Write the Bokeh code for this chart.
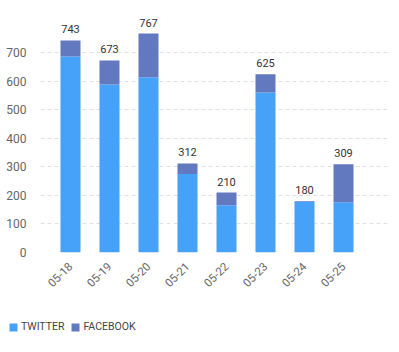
from bokeh.plotting import figure
from bokeh.models import ColumnDataSource, FixedTicker, Legend, LegendItem
from bokeh.layouts import column
from bokeh.core.properties import value
from bokeh.embed import file_html
from bokeh.resources import INLINE
import math

dates = ["05-18", "05-19", "05-20", "05-21", "05-22", "05-23", "05-24", "05-25"]
twitter = [687, 589, 614, 275, 166, 561, 177, 176]
facebook = [56, 84, 153, 37, 44, 64, 3, 133]
y_ticks = [0, 100, 200, 300, 400, 500, 600, 700]
series_names = ["TWITTER", "FACEBOOK"]

FONT = "Roboto"
TW_COLOR = "#46a1f8"
FB_COLOR = "#6379bf"

idx = list(range(len(dates)))
totals = [t + f for t, f in zip(twitter, facebook)]
src = ColumnDataSource(dict(x=idx, twitter=twitter, facebook=facebook,
                            total=totals, label=[str(v) for v in totals]))

p = figure(width=399, height=300, output_backend="svg", toolbar_location=None,
           x_range=(-0.769, 8.128), y_range=(0, 848),
           min_border_left=40, min_border_right=12, min_border_top=10,
           min_border_bottom=48)
p.outline_line_color = None
p.frame_align = False

r = p.vbar_stack(["twitter", "facebook"], x="x", width=0.513, source=src,
                 color=[TW_COLOR, FB_COLOR], line_color=None)

p.text(x="x", y="total", text="label", source=src, text_align="center",
       text_baseline="bottom", y_offset=-7, text_font=value(FONT),
       text_font_size="11px", text_color="#333333")

p.xaxis.ticker = FixedTicker(ticks=idx)
p.xaxis.major_label_overrides = {i: d for i, d in enumerate(dates)}
p.xaxis.major_label_orientation = math.pi / 4
p.xaxis.axis_line_color = None
p.xaxis.major_tick_line_color = None
p.xaxis.minor_tick_line_color = None
p.xaxis.major_label_text_font = FONT
p.xaxis.major_label_text_font_size = "11.5px"
p.xaxis.major_label_text_color = "#666666"
p.xaxis.major_label_standoff = 6
p.xgrid.grid_line_color = None

p.yaxis.ticker = FixedTicker(ticks=y_ticks)
p.yaxis.axis_line_color = None
p.yaxis.major_tick_line_color = None
p.yaxis.minor_tick_line_color = None
p.yaxis.major_label_text_font = FONT
p.yaxis.major_label_text_font_size = "12px"
p.yaxis.major_label_text_color = "#666666"
p.yaxis.major_label_standoff = 8
p.ygrid.ticker = FixedTicker(ticks=y_ticks)
p.ygrid.grid_line_color = "#e0e0e0"
p.ygrid.grid_line_dash = "4 3"

# legend strip below the chart (no axes, frame fills the whole strip)
lg = figure(width=399, height=52, output_backend="svg", toolbar_location=None,
            x_range=(0, 1), y_range=(0, 1), min_border=0,
            x_axis_location=None, y_axis_location=None)
lg.outline_line_color = None
lg.frame_align = False
lg.grid.visible = False
hidden = ColumnDataSource(dict(x=[-5.0], top=[0.0]))
r_tw = lg.vbar(x="x", top="top", bottom=0, width=0.0, source=hidden, color=TW_COLOR, line_color=None)
r_fb = lg.vbar(x="x", top="top", bottom=0, width=0.0, source=hidden, color=FB_COLOR, line_color=None)
legend = Legend(items=[LegendItem(label=series_names[0], renderers=[r_tw]),
                       LegendItem(label=series_names[1], renderers=[r_fb])],
                location=(8, 19), orientation="horizontal",
                padding=0, margin=0, spacing=6, glyph_width=10, glyph_height=10,
                label_height=10, label_width=10, label_standoff=3, label_text_font=FONT,
                label_text_font_size="10.5px", label_text_color="#444444",
                label_text_baseline="middle",
                border_line_color=None, background_fill_alpha=0)
lg.add_layout(legend, "center")

layout = column(p, lg, spacing=0)
open("out.html", "w").write(file_html(layout, INLINE))
